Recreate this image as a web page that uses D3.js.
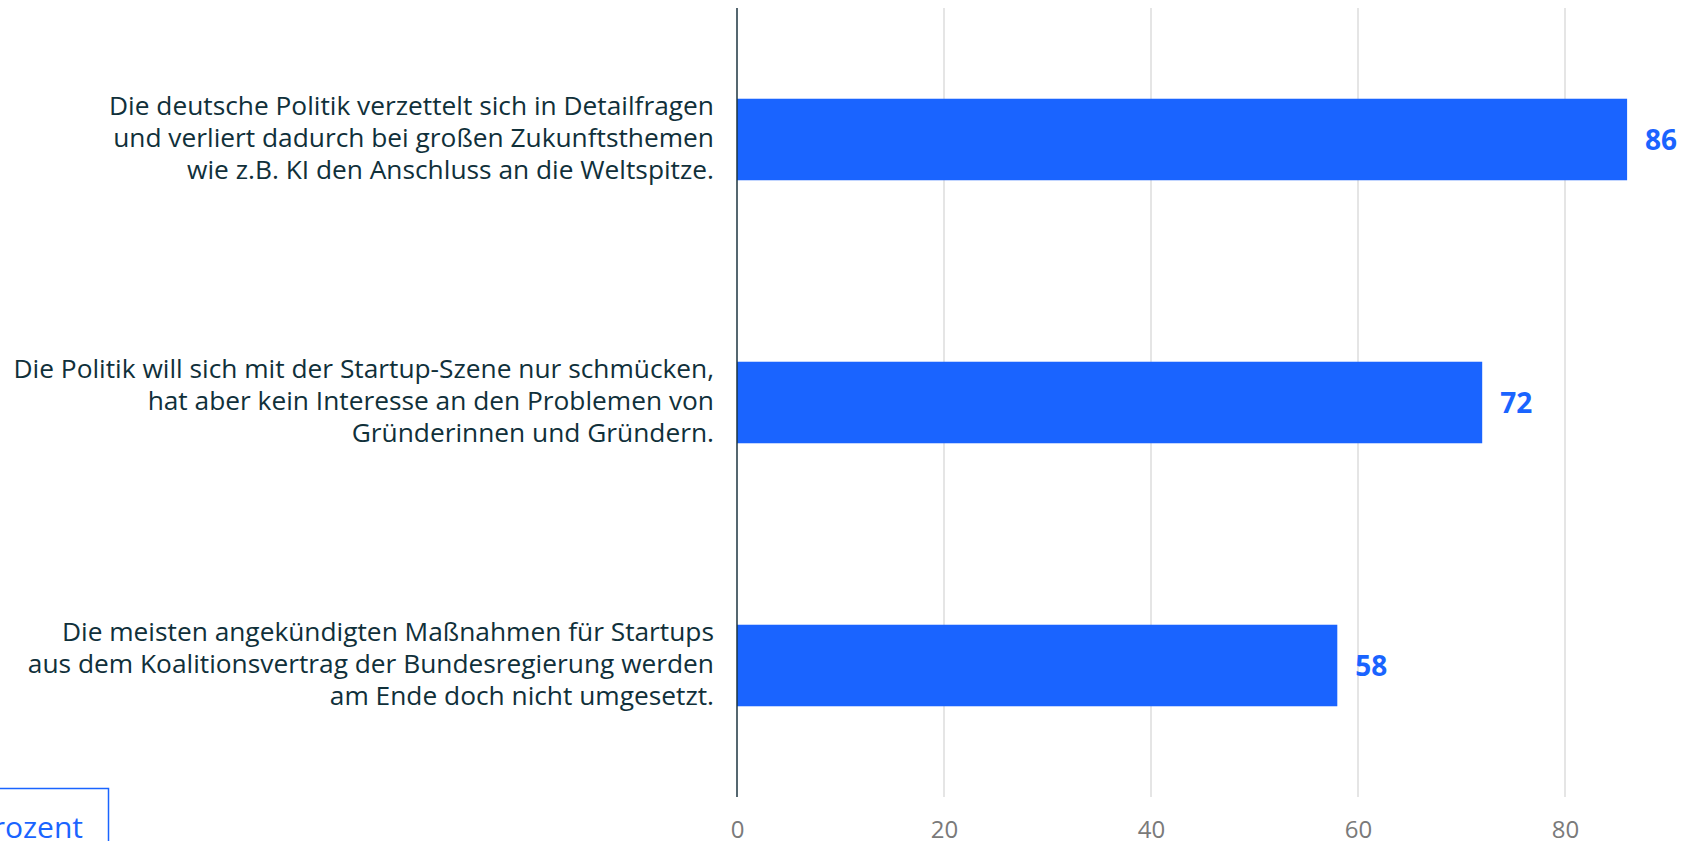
<!DOCTYPE html>
<html>
<head>
<meta charset="utf-8">
<script src="https://cdn.jsdelivr.net/npm/d3@7"></script>
<style>
  html, body { margin: 0; padding: 0; background: #fff; overflow: hidden; }
  svg { display: block; }
</style>
</head>
<body>
<svg id="chart"></svg>
<script>
const WIDTH = 1683;
const HEIGHT = 841;

// statements (already broken into lines as in the original)
const statements = [
  ["Die deutsche Politik verzettelt sich in Detailfragen",
   "und verliert dadurch bei großen Zukunftsthemen",
   "wie z.B. KI den Anschluss an die Weltspitze."],
  ["Die Politik will sich mit der Startup-Szene nur schmücken,",
   "hat aber kein Interesse an den Problemen von",
   "Gründerinnen und Gründern."],
  ["Die meisten angekündigten Maßnahmen für Startups",
   "aus dem Koalitionsvertrag der Bundesregierung werden",
   "am Ende doch nicht umgesetzt."]
];
const values = [86, 72, 58];
const tickValues = [0, 20, 40, 60, 80, 100];
const unitLabel = "Prozent";

const BLUE = "#1a64ff";
const TEXT = "#10303a";

const svg = d3.select("#chart")
  .attr("width", WIDTH)
  .attr("height", HEIGHT);

const x = d3.scaleLinear()
  .domain([0, 100])
  .range([737, 1772]);

const y = d3.scaleBand()
  .domain(d3.range(statements.length))
  .range([8, 797])
  .paddingInner(0.69)
  .paddingOuter(0.345);

// grid lines
svg.append("g")
  .selectAll("line")
  .data(tickValues.filter(d => d > 0))
  .join("line")
    .attr("x1", d => x(d)).attr("x2", d => x(d))
    .attr("y1", y.range()[0]).attr("y2", y.range()[1])
    .attr("stroke", "#dddddd")
    .attr("stroke-width", 1.5);

// bars
svg.append("g")
  .selectAll("rect")
  .data(values)
  .join("rect")
    .attr("x", x(0))
    .attr("y", (d, i) => y(i))
    .attr("width", d => x(d) - x(0))
    .attr("height", y.bandwidth())
    .attr("fill", BLUE);

// zero line
svg.append("line")
  .attr("x1", x(0)).attr("x2", x(0))
  .attr("y1", y.range()[0]).attr("y2", y.range()[1])
  .attr("stroke", "#1d3540")
  .attr("stroke-width", 1.5);

// value labels
svg.append("g")
  .selectAll("text")
  .data(values)
  .join("text")
    .attr("x", d => x(d) + 18)
    .attr("y", (d, i) => y(i) + y.bandwidth() / 2 + 10)
    .attr("fill", BLUE)
    .style("font", "bold 28px 'Open Sans', sans-serif")
    .text(d => d);

// category labels
const labels = svg.append("g")
  .attr("text-anchor", "end")
  .style("font", "26.3px 'Open Sans', sans-serif")
  .attr("fill", TEXT)
  .selectAll("text")
  .data(statements)
  .join("text")
    .attr("x", 714)
    .attr("y", (d, i) => y(i) + y.bandwidth() / 2 + 7.5);

labels.selectAll("tspan")
  .data(d => d)
  .join("tspan")
    .attr("x", 714)
    .attr("dy", (d, i, n) => i === 0 ? -(n.length - 1) / 2 * 32 : 32)
    .text(d => d);

// x axis tick labels
const axis = svg.append("g")
  .attr("transform", `translate(0,${y.range()[1]})`)
  .call(d3.axisBottom(x).tickValues(tickValues).tickSize(0));
axis.select(".domain").remove();
axis.selectAll("text")
  .attr("dy", null)
  .attr("y", 41)
  .attr("fill", "#7a7a7a")
  .style("font", "24px 'Open Sans', sans-serif");

// unit box (cut off at the left edge)
svg.append("rect")
  .attr("x", -20)
  .attr("y", 788.5)
  .attr("width", 128.5)
  .attr("height", 80)
  .attr("fill", "none")
  .attr("stroke", BLUE)
  .attr("stroke-width", 1.5);

svg.append("text")
  .attr("x", 83)
  .attr("y", 838)
  .attr("text-anchor", "end")
  .attr("fill", BLUE)
  .style("font", "30px 'Open Sans', sans-serif")
  .text(unitLabel);
</script>
</body>
</html>
